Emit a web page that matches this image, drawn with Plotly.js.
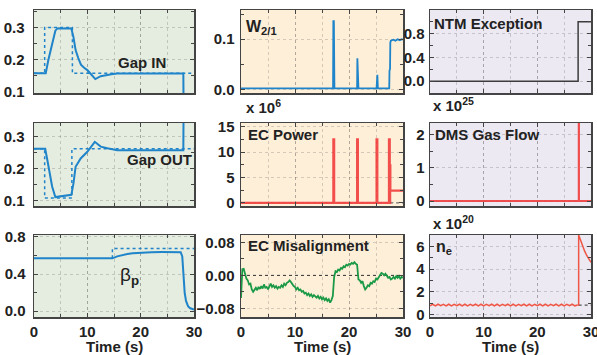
<!DOCTYPE html>
<html><head><meta charset="utf-8">
<script src="https://cdn.plot.ly/plotly-3.0.1.min.js"></script>
<style>html,body{margin:0;padding:0;background:#fff;}#chart{width:597px;height:355px;}</style>
</head><body><div id="chart"></div>
<script>
// ---------------- DATA ----------------
const xTickVals = [0, 10, 20, 30];
const xTickText = ['0', '10', '20', '30'];

// Gap IN (measured / reference)
const gapInT = [0, 2.2, 2.7, 3.1, 3.6, 4.0, 4.4, 7.0, 7.4, 7.8, 8.3, 8.8, 9.4, 10.0, 10.7, 11.5, 12.5, 13.5, 14.5, 15.6, 20.0, 25.0, 28.0, 28.05];
const gapInV = [0.158, 0.158, 0.20, 0.23, 0.265, 0.29, 0.297, 0.297, 0.27, 0.23, 0.205, 0.185, 0.175, 0.168, 0.155, 0.14, 0.149, 0.153, 0.155, 0.157, 0.157, 0.157, 0.157, 0.05];
const gapInRefT = [0, 2.0, 2.0, 7.2, 7.2, 30];
const gapInRefV = [0.158, 0.158, 0.30, 0.30, 0.158, 0.158];

// Gap OUT
const gapOutT = [0, 2.1, 2.5, 3.0, 3.4, 4.0, 5.0, 6.0, 7.0, 7.4, 7.8, 8.75, 10.0, 11.4, 12.5, 13.75, 15.6, 20, 25, 28.0, 28.05];
const gapOutV = [0.262, 0.262, 0.227, 0.18, 0.144, 0.111, 0.113, 0.114, 0.118, 0.154, 0.206, 0.232, 0.253, 0.284, 0.269, 0.264, 0.258, 0.258, 0.258, 0.258, 0.40];
const gapOutRefT = [0, 2.0, 2.0, 7.1, 7.1, 30];
const gapOutRefV = [0.262, 0.262, 0.108, 0.108, 0.262, 0.262];

// beta_p
const betaT = [0, 14.7, 15.6, 16.5, 17.5, 18.5, 20, 22, 24, 27.5, 27.8, 28.0, 28.25, 28.5, 28.9, 29.3, 29.7, 30];
const betaV = [0.569, 0.569, 0.59, 0.605, 0.615, 0.625, 0.633, 0.636, 0.637, 0.636, 0.59, 0.41, 0.2, 0.11, 0.05, 0.03, 0.02, 0.015];
const betaRefT = [14.7, 14.7, 30];
const betaRefV = [0.569, 0.675, 0.675];

// W 2/1
const w21T = [0, 17.05, 17.1, 17.2, 17.3, 21.5, 21.55, 21.65, 21.75, 25.1, 25.15, 25.25, 25.35, 27.45, 27.5, 27.6, 27.65, 27.75, 28.2, 28.6, 29.0, 29.4, 29.8, 30];
const w21V = [0.002, 0.002, 0.136, 0.136, 0.002, 0.002, 0.062, 0.035, 0.002, 0.002, 0.029, 0.029, 0.002, 0.002, 0.038, 0.04, 0.093, 0.097, 0.099, 0.097, 0.1, 0.098, 0.1, 0.099];

// EC power (x 1e6)
const ecPowT = [0, 17.1, 17.1, 17.25, 17.25, 21.5, 21.5, 21.65, 21.65, 25.1, 25.1, 25.25, 25.25, 27.4, 27.4, 27.55, 27.55, 27.62, 27.62, 27.66, 27.66, 30];
const ecPowV = [0, 0, 12.5, 12.5, 0, 0, 12.5, 12.5, 0, 0, 12.5, 12.5, 0, 0, 12.5, 12.5, 0, 0, 7.4, 7.4, 2.4, 2.4];
const ecPowRefT = [27.6, 30];
const ecPowRefV = [0, 0];

// EC misalignment, sampled every 0.25 s from t = 0
const ecMis = [-0.055, 0.015, 0.016, 0.004, -0.008, -0.012, -0.022, -0.02, -0.034, -0.04, -0.036, -0.03, -0.036, -0.028, -0.033, -0.026,
  -0.032, -0.022, -0.03, -0.028, -0.034, -0.026, -0.02, -0.028, -0.024, -0.03, -0.026, -0.032, -0.028, -0.03, -0.024, -0.028,
  -0.02, -0.024, -0.018, -0.016, -0.012, -0.016, -0.022, -0.026, -0.028, -0.034, -0.03, -0.036, -0.034, -0.04, -0.038, -0.044,
  -0.042, -0.048, -0.044, -0.05, -0.046, -0.052, -0.048, -0.05, -0.054, -0.05, -0.056, -0.052, -0.058, -0.054, -0.06, -0.056,
  -0.062, -0.058, -0.066, -0.06, -0.05, -0.004, 0.01, 0.008, 0.014, 0.012, 0.018, 0.016, 0.022, 0.02, 0.026, 0.024,
  0.028, 0.026, 0.03, 0.028, 0.032, 0.028, 0.026, -0.01, -0.012, -0.018, -0.014, -0.026, -0.034, -0.03, -0.024, -0.026,
  -0.018, -0.02, -0.014, -0.016, -0.008, -0.01, -0.004, 0.0, 0.006, 0.004, 0.0, 0.004, -0.002, -0.006, -0.004, -0.01,
  -0.008, -0.004, -0.008, -0.002, -0.006, -0.002, -0.008, -0.004, -0.006];
const ecMisZeroT = [0, 30];
const ecMisZeroV = [0, 0];

// NTM exception
const ntmT = [0, 27.6, 27.6, 30];
const ntmV = [0, 0, 1, 1];

// DMS gas flow (x 1e25)
const dmsT = [0, 27.72, 27.72, 27.76, 27.76, 30];
const dmsV = [0, 0, 3, 3, 0, 0];

// n_e (x 1e20): baseline sampled every 0.5 s from t = 0, then the post-injection rise
const neBase = [0.78, 0.92, 0.78, 0.92, 0.79, 0.91, 0.78, 0.92, 0.78, 0.91, 0.79, 0.92, 0.78, 0.92, 0.78, 0.91,
  0.79, 0.92, 0.78, 0.92, 0.78, 0.91, 0.79, 0.92, 0.78, 0.92, 0.78, 0.91, 0.79, 0.92, 0.78, 0.92,
  0.78, 0.91, 0.79, 0.92, 0.78, 0.92, 0.78, 0.91, 0.79, 0.92, 0.78, 0.92, 0.78, 0.91, 0.79, 0.92,
  0.78, 0.92, 0.78, 0.91, 0.79, 0.92, 0.78, 0.85];
const neT2 = [27.5, 27.7, 27.7, 28.0, 28.4, 28.8, 29.2, 29.6, 30];
const neV2 = [0.85, 0.85, 7.0, 6.6, 6.1, 5.6, 5.2, 4.9, 4.6];
const neRefT = [27.7, 30];
const neRefV = [0.85, 0.85];

// ---------------- STYLE / LAYOUT ----------------
const W = 597, H = 355;
const BLUE = '#1f84c9', RED = 'rgba(240,50,50,0.85)', GREEN = '#1a9a46', DARK = '#3c3c3c';
const bgGreen = '#e5ece0', bgOrange = '#feefd9', bgPurple = '#ece9f2';
const FONT = 'Liberation Sans, Arial, sans-serif';
const tf = {family: FONT, size: 15, color: '#222', weight: 'bold'};

const colX = [[34, 194], [241, 403], [430, 591]];
const rowY = [[10, 93], [123, 206], [235, 317]];
const px = v => v / W, py = v => 1 - v / H;

const gridC = 'rgba(0,0,0,0.16)';
function xAxis(col, row) {
  return {
    domain: [px(colX[col][0]), px(colX[col][1])], range: [0, 30],
    tickmode: 'array', tickvals: xTickVals, ticktext: xTickText, showticklabels: row === 2,
    ticklabeloverflow: 'allow',
    ticks: 'inside', ticklen: 4, tickcolor: '#444', mirror: 'ticks',
    showline: true, linecolor: '#444', linewidth: 1.5,
    showgrid: true, gridcolor: gridC, griddash: 'dot', zeroline: false,
    minor: {tickmode: 'linear', tick0: 0, dtick: 5, ticks: 'inside', ticklen: 3, tickcolor: '#444', showgrid: true, gridcolor: gridC, griddash: 'dot'},
    tickfont: tf, fixedrange: true
  };
}
function yAxis(row, range, vals, text, minorD, standoff) {
  return {
    domain: [py(rowY[row][1]), py(rowY[row][0])], range: range,
    tickmode: 'array', tickvals: vals, ticktext: text,
    ticks: 'inside', ticklen: 4, tickcolor: '#444', mirror: 'ticks',
    showline: true, linecolor: '#444', linewidth: 1.5,
    showgrid: true, gridcolor: gridC, griddash: 'dot', zeroline: false,
    minor: {tickmode: 'linear', tick0: 0, dtick: minorD, ticks: 'inside', ticklen: 3, tickcolor: '#444', showgrid: false},
    tickfont: tf, ticklabelstandoff: standoff, fixedrange: true
  };
}

const layout = {
  width: W, height: H, margin: {l: 0, r: 0, t: 0, b: 0},
  paper_bgcolor: '#fff', plot_bgcolor: '#fff', showlegend: false,
  font: {family: FONT},
  xaxis: xAxis(0, 0), yaxis: yAxis(0, [0.097, 0.354], [0.1, 0.2, 0.3], ['0.1', '0.2', '0.3'], 0.05, 5),
  xaxis2: xAxis(1, 0), yaxis2: yAxis(0, [-0.007, 0.158], [0, 0.1], ['0.0', '0.1'], 0.05, 2),
  xaxis3: xAxis(2, 0), yaxis3: yAxis(0, [-0.2, 1.2], [0, 0.4, 0.8], ['0.0', '0.4', '0.8'], 0.2, 1),
  xaxis4: xAxis(0, 1), yaxis4: yAxis(1, [0.083, 0.343], [0.1, 0.2, 0.3], ['0.1', '0.2', '0.3'], 0.05, 5),
  xaxis5: xAxis(1, 1), yaxis5: yAxis(1, [-0.6, 15.7], [0, 5, 10, 15], ['0', '5', '10', '15'], 2.5, 2),
  xaxis6: xAxis(2, 1), yaxis6: yAxis(1, [-0.15, 2.36], [0, 1, 2], ['0', '1', '2'], 0.5, 1),
  xaxis7: xAxis(0, 2), yaxis7: yAxis(2, [-0.064, 0.821], [0, 0.4, 0.8], ['0.0', '0.4', '0.8'], 0.2, 4),
  xaxis8: xAxis(1, 2), yaxis8: yAxis(2, [-0.101, 0.098], [-0.08, 0, 0.08], ['\u22120.08', '0.00', '0.08'], 0.04, 2),
  xaxis9: xAxis(2, 2), yaxis9: yAxis(2, [-0.2, 7.0], [0, 2, 4, 6], ['0', '2', '4', '6'], 1, 1),
  shapes: [], annotations: []
};
for (let i = 1; i <= 9; i++) {
  const s = i === 1 ? '' : String(i);
  layout['xaxis' + s].anchor = 'y' + s;
  layout['yaxis' + s].anchor = 'x' + s;
  const col = (i - 1) % 3;
  layout.shapes.push({type: 'rect', xref: 'x' + s + ' domain', yref: 'y' + s + ' domain', x0: 0, x1: 1, y0: 0, y1: 1,
    fillcolor: [bgGreen, bgOrange, bgPurple][col], line: {width: 0}, layer: 'below'});
}

function ann(text, x, y, size, opts) {
  return Object.assign({text: text, xref: 'paper', yref: 'paper', x: px(x), y: py(y), xanchor: 'left', yanchor: 'middle',
    showarrow: false, font: {family: FONT, size: size, color: '#222', weight: 'bold'}}, opts || {});
}
layout.annotations.push(
  ann('Gap IN', 116, 63, 15),
  ann('Gap OUT', 125, 159, 15),
  ann('β<sub><b>p</b></sub>', 118, 276, 19, {font: {family: FONT, size: 19, color: '#222'}}),
  ann('W<sub>2/1</sub>', 244, 27, 16),
  ann('EC Power', 246, 135, 15),
  ann('EC Misalignment', 246, 245, 15),
  ann('NTM Exception', 432, 23, 15),
  ann('DMS Gas Flow', 433, 135, 15),
  ann('n<sub>e</sub>', 434, 247, 16),
  ann('x 10<sup>6</sup>', 244, 106, 15),
  ann('x 10<sup>25</sup>', 431, 104, 15),
  ann('x 10<sup>20</sup>', 431, 222, 15),
  ann('Time (s)', 114, 346, 15, {xanchor: 'center'}),
  ann('Time (s)', 322, 346, 15, {xanchor: 'center'}),
  ann('Time (s)', 510, 346, 15, {xanchor: 'center'})
);

function line(x, y, ax, color, width, dash, extra) {
  const s = ax === 1 ? '' : String(ax);
  return Object.assign({type: 'scatter', mode: 'lines', x: x, y: y, xaxis: 'x' + s, yaxis: 'y' + s,
    line: {color: color, width: width, dash: dash || 'solid'}, hoverinfo: 'skip'}, extra || {});
}

const traces = [
  line(gapInRefT, gapInRefV, 1, BLUE, 1.5, 'dot'),
  line(gapInT, gapInV, 1, BLUE, 2),
  line(w21T, w21V, 2, BLUE, 1.8),
  line(ntmT, ntmV, 3, DARK, 1.5),
  line(gapOutRefT, gapOutRefV, 4, BLUE, 1.5, 'dot'),
  line(gapOutT, gapOutV, 4, BLUE, 2),
  line(ecPowRefT, ecPowRefV, 5, '#777', 1.2, 'dot'),
  line(ecPowT, ecPowV, 5, RED, 2.2),
  line(dmsT, dmsV, 6, RED, 2),
  line(betaRefT, betaRefV, 7, BLUE, 1.5, 'dot'),
  line(betaT, betaV, 7, BLUE, 2),
  line(ecMisZeroT, ecMisZeroV, 8, '#333', 1, 'dot'),
  {type: 'scatter', mode: 'lines', x0: 0, dx: 0.25, y: ecMis, xaxis: 'x8', yaxis: 'y8', line: {color: GREEN, width: 1.8}, hoverinfo: 'skip'},
  line(neRefT, neRefV, 9, '#555', 1.2, 'dot'),
  {type: 'scatter', mode: 'lines', x0: 0, dx: 0.5, y: neBase, xaxis: 'x9', yaxis: 'y9', line: {color: 'rgba(240,70,50,0.9)', width: 1.5}, hoverinfo: 'skip'},
  line(neT2, neV2, 9, 'rgba(240,70,50,0.9)', 1.5)
];

Plotly.newPlot('chart', traces, layout, {displayModeBar: false, staticPlot: true});
</script>
</body></html>
